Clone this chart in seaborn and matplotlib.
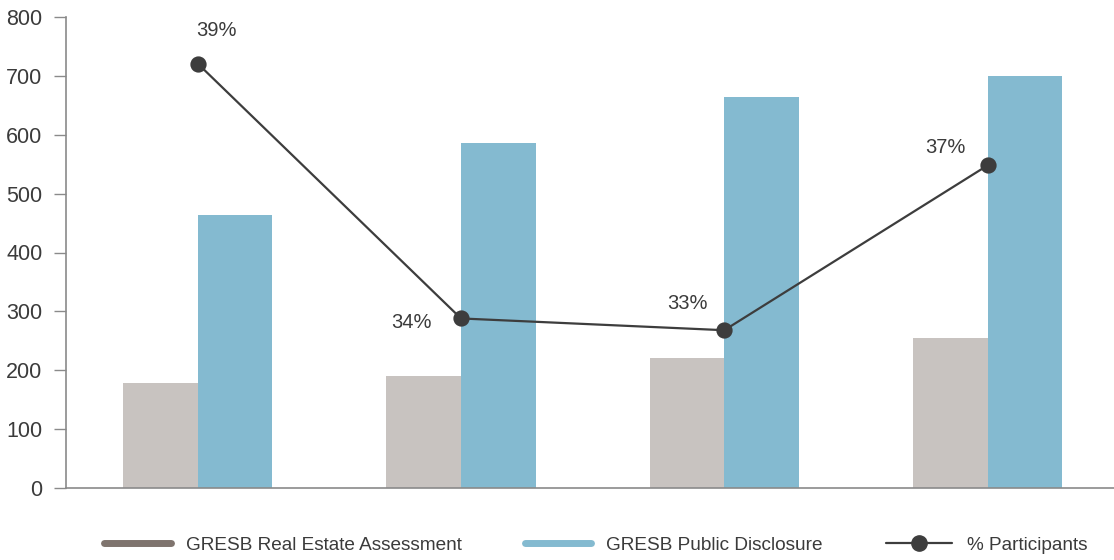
import matplotlib
matplotlib.use("Agg")
import matplotlib.pyplot as plt
from matplotlib.lines import Line2D
import pandas as pd
import seaborn as sns

# data
groups = ["G1", "G2", "G3", "G4"]
assessment = [178, 190, 221, 255]
disclosure = [463, 586, 664, 699]
participants_pos = [721, 288, 268, 548]   # line drawn on the count axis
participants_pct = ["39%", "34%", "33%", "37%"]
series_names = ["GRESB Real Estate Assessment", "GRESB Public Disclosure"]
line_name = "% Participants"

sns.set_theme(style="white")
plt.rcParams["font.family"] = ["Liberation Sans", "DejaVu Sans"]
text_col = "#3b3b3b"
spine_col = "#8a8a8a"
grey_bar = "#c8c3c0"
blue_bar = "#84bad0"
legend_grey = "#7f746e"
line_col = "#3d3d3d"

df = pd.DataFrame({
    "group": groups * 2,
    "value": assessment + disclosure,
    "series": [series_names[0]] * 4 + [series_names[1]] * 4,
})

fig = plt.figure(figsize=(11.14, 5.6), dpi=100)
ax = fig.add_axes([66 / 1114, 1 - 488 / 560, 1 - 66 / 1114, (488 - 17) / 560])

sns.barplot(data=df, x="group", y="value", hue="series", order=groups,
            palette=[grey_bar, blue_bar], saturation=1, width=0.567,
            linewidth=0, legend=False, ax=ax)
sns.pointplot(x=groups, y=participants_pos, order=groups, color=line_col,
              markers="o", markersize=10.5, linewidth=1.6, ax=ax)

# percentage labels
offsets = [(19, 33, "center"), (-29, -4, "right"), (-17, 27, "right"), (-22, 18, "right")]
for i, (lab, (dx, dy, ha)) in enumerate(zip(participants_pct, offsets)):
    ax.annotate(lab, (i, participants_pos[i]), xytext=(dx, dy),
                textcoords="offset pixels", ha=ha, va="center",
                fontsize=14.5, color=text_col)

ax.set_xlim(-0.5, 3.48)
ax.set_ylim(0, 800)
ax.set_yticks(range(0, 801, 100))
ax.set_xticks([])
ax.set_xlabel("")
ax.set_ylabel("")
ax.tick_params(axis="y", left=True, length=9, width=1, color=spine_col,
               labelsize=15.5, labelcolor=text_col, pad=8, direction="out")
for side in ["top", "right"]:
    ax.spines[side].set_visible(False)
for side in ["left", "bottom"]:
    ax.spines[side].set_color(spine_col)
    ax.spines[side].set_linewidth(1.2)

handles = [
    Line2D([], [], color=legend_grey, lw=5, solid_capstyle="round"),
    Line2D([], [], color=blue_bar, lw=5, solid_capstyle="round"),
    Line2D([], [], color=line_col, lw=1.6, marker="o", markersize=11),
]
fig.legend(handles, series_names + [line_name], loc="center",
           bbox_to_anchor=(0.535, 0.027), ncol=3, frameon=False,
           fontsize=13.7, handlelength=3.5, handletextpad=0.8,
           columnspacing=3.3, labelcolor=text_col)

fig.savefig("out.png", dpi=100)
